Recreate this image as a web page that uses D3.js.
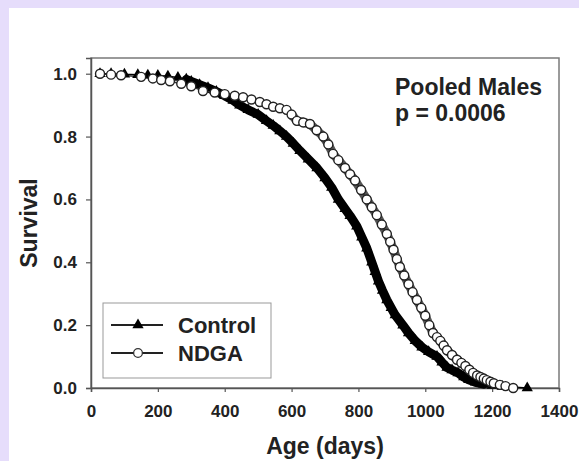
<!DOCTYPE html>
<html>
<head>
<meta charset="utf-8">
<script src="https://cdn.jsdelivr.net/npm/d3@7"></script>
<style>
    body { margin: 0; background: #e6ddfb; }
    svg { display: block; }
    text { font-family: "Liberation Sans", Arial, sans-serif; font-weight: bold; fill: #222; }
</style>
</head>
<body>
<svg id="chart" width="579" height="461"></svg>
<script>
// survival data (age in days, fraction surviving)
let controlAge = [27, 60, 100, 140, 170, 200, 230, 260, 285, 300, 325, 350, 375, 400, 425, 445, 470, 500,
    525, 545, 565, 585, 605, 625, 650, 676, 700, 720, 740, 760, 775, 795, 810, 825, 840, 850, 860, 872,
    885, 898, 910, 933, 950, 970, 990, 1010, 1035, 1050, 1065, 1080, 1098, 1115, 1130, 1150, 1175, 1200,
    1230, 1305];
let controlSurv = [1.000, 1.000, 0.998, 0.997, 0.995, 0.994, 0.992, 0.988, 0.982, 0.975, 0.965, 0.955,
    0.943, 0.930, 0.915, 0.900, 0.885, 0.870, 0.850, 0.835, 0.818, 0.800, 0.778, 0.755, 0.728, 0.700,
    0.668, 0.638, 0.600, 0.570, 0.548, 0.515, 0.480, 0.445, 0.400, 0.370, 0.340, 0.310, 0.280, 0.255,
    0.232, 0.200, 0.175, 0.150, 0.130, 0.115, 0.100, 0.082, 0.065, 0.057, 0.048, 0.035, 0.026, 0.018,
    0.012, 0.008, 0.005, 0.000];

let ndgaAge = [27, 60, 90, 150, 185, 210, 236, 270, 300, 335, 370, 400, 430, 455, 480, 505, 525, 545, 565,
    585, 600, 616, 635, 655, 675, 695, 710, 724, 740, 760, 775, 790, 808, 825, 840, 855, 870, 885, 895,
    905, 915, 924, 937, 950, 962, 975, 988, 1000, 1012, 1023, 1035, 1045, 1055, 1065, 1080, 1095, 1108,
    1120, 1132, 1143, 1155, 1165, 1175, 1184, 1195, 1205, 1223, 1240, 1263];
let ndgaSurv = [1.000, 0.997, 0.995, 0.990, 0.985, 0.980, 0.976, 0.968, 0.960, 0.945, 0.940, 0.935, 0.930,
    0.925, 0.918, 0.910, 0.903, 0.895, 0.890, 0.885, 0.870, 0.850, 0.845, 0.840, 0.820, 0.800, 0.775,
    0.745, 0.725, 0.700, 0.680, 0.660, 0.630, 0.600, 0.575, 0.550, 0.520, 0.490, 0.465, 0.440, 0.410,
    0.385, 0.358, 0.330, 0.305, 0.280, 0.255, 0.230, 0.200, 0.175, 0.162, 0.150, 0.135, 0.120, 0.105,
    0.090, 0.080, 0.070, 0.058, 0.048, 0.040, 0.035, 0.030, 0.025, 0.020, 0.015, 0.010, 0.006, 0.000];

let xTicks = [0, 200, 400, 600, 800, 1000, 1200, 1400];
let yTicks = [0.0, 0.2, 0.4, 0.6, 0.8, 1.0];
let legendNames = ["Control", "NDGA"];
let noteLines = ["Pooled Males", "p = 0.0006"];

let control = controlAge.map((a, i) => ({age: a, s: controlSurv[i]}));
let ndga = ndgaAge.map((a, i) => ({age: a, s: ndgaSurv[i]}));

let svg = d3.select("#chart");

// white panel inside the lavender border
svg.append("rect").attr("x", 9).attr("y", 8).attr("width", 570).attr("height", 453).attr("fill", "#fff");

let x = d3.scaleLinear().domain([0, 1400]).range([91, 559]);
let y = d3.scaleLinear().domain([0, 1.05]).range([388, 58]);

// frame
svg.append("rect")
    .attr("x", x(0)).attr("y", y(1.05))
    .attr("width", x(1400) - x(0)).attr("height", y(0) - y(1.05))
    .attr("fill", "none").attr("stroke", "#7a7a7a").attr("stroke-width", 1.5);

let xAxis = svg.append("g")
    .attr("transform", "translate(0," + y(0) + ")")
    .call(d3.axisBottom(x).tickValues(xTicks).tickSize(4).tickPadding(13).tickFormat(d3.format("d")));
let yAxis = svg.append("g")
    .attr("transform", "translate(" + x(0) + ",0)")
    .call(d3.axisLeft(y).tickValues(yTicks).tickSize(5).tickPadding(9).tickFormat(d3.format(".1f")));

for (let ax of [xAxis, yAxis]) {
    ax.select(".domain").attr("stroke", "#555").attr("stroke-width", 1.5);
    ax.selectAll(".tick line").attr("stroke", "#555").attr("stroke-width", 1.2);
    ax.selectAll(".tick text").attr("font-size", 17).attr("fill", "#222")
        .attr("font-family", "Liberation Sans, Arial, sans-serif").attr("font-weight", "bold");
}

// axis titles
svg.append("text")
    .attr("x", (x(0) + x(1400)) / 2).attr("y", 454)
    .attr("text-anchor", "middle").attr("font-size", 23)
    .text("Age (days)");
svg.append("text")
    .attr("transform", "translate(37," + ((y(0) + y(1.05)) / 2) + ") rotate(-90)")
    .attr("text-anchor", "middle").attr("font-size", 23)
    .text("Survival");

let line = d3.line().x(d => x(d.age)).y(d => y(d.s));

// dense parts of the curves look like solid bands in the original
svg.append("path")
    .datum(control.filter(d => d.age >= 285 && d.age <= 1175))
    .attr("d", line).attr("fill", "none").attr("stroke", "#000")
    .attr("stroke-width", 9).attr("stroke-linejoin", "round").attr("stroke-linecap", "round");
svg.append("path")
    .datum(ndga.filter(d => d.age >= 600 && d.age <= 1205))
    .attr("d", line).attr("fill", "none").attr("stroke", "#555")
    .attr("stroke-width", 9).attr("stroke-linejoin", "round").attr("stroke-linecap", "round");

svg.append("path").datum(control).attr("d", line)
    .attr("fill", "none").attr("stroke", "#000").attr("stroke-width", 1.5);
svg.append("path").datum(ndga).attr("d", line)
    .attr("fill", "none").attr("stroke", "#333").attr("stroke-width", 1.5);

let tri = d3.symbol().type(d3.symbolTriangle).size(55);

svg.append("g").selectAll("path")
    .data(control)
    .enter()
    .append("path")
    .attr("d", tri)
    .attr("transform", d => "translate(" + x(d.age) + "," + y(d.s) + ")")
    .attr("fill", "#000");

svg.append("g").selectAll("circle")
    .data(ndga)
    .enter()
    .append("circle")
    .attr("cx", d => x(d.age))
    .attr("cy", d => y(d.s))
    .attr("r", 4.5)
    .attr("fill", "#fff")
    .attr("stroke", "#222")
    .attr("stroke-width", 1.4);

// annotation
svg.append("g").selectAll("text")
    .data(noteLines)
    .enter()
    .append("text")
    .attr("x", 395)
    .attr("y", (d, i) => 95 + i * 26)
    .attr("font-size", 23)
    .text(d => d);

// legend
let legend = svg.append("g");
legend.append("rect")
    .attr("x", 103).attr("y", 303).attr("width", 168).attr("height", 75)
    .attr("fill", "#fff").attr("stroke", "#999").attr("stroke-width", 1);

let rows = legend.selectAll("g.row")
    .data(legendNames)
    .enter()
    .append("g")
    .attr("class", "row")
    .attr("transform", (d, i) => "translate(0," + (325 + i * 28) + ")");

rows.append("line")
    .attr("x1", 111).attr("x2", 163)
    .attr("stroke", "#222").attr("stroke-width", 2);
rows.append("path")
    .attr("d", (d, i) => i == 0 ? tri() : d3.symbol().type(d3.symbolCircle).size(60)())
    .attr("transform", "translate(138,0)")
    .attr("fill", (d, i) => i == 0 ? "#000" : "#fff")
    .attr("stroke", (d, i) => i == 0 ? "none" : "#333")
    .attr("stroke-width", 1.3);
rows.append("text")
    .attr("x", 178).attr("y", 8)
    .attr("font-size", 22)
    .text(d => d);
</script>
</body>
</html>
